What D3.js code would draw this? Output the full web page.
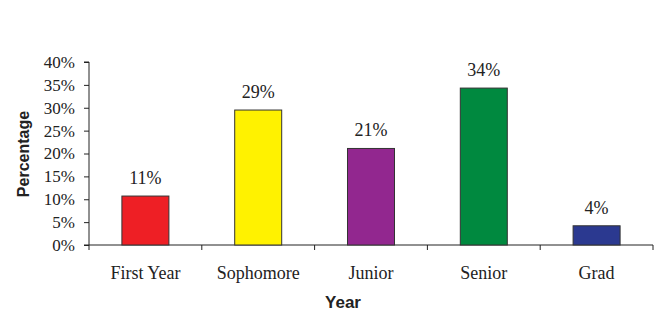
<!DOCTYPE html>
<html>
<head>
<meta charset="utf-8">
<script src="https://cdn.jsdelivr.net/npm/d3@7"></script>
<style>
  body { margin: 0; background: #fff; }
  svg { display: block; }
</style>
</head>
<body>
<svg id="chart" width="665" height="312"></svg>
<script>
// chart data
var categories = ["First Year", "Sophomore", "Junior", "Senior", "Grad"];
var values = [10.7, 29.5, 21.1, 34.3, 4.2];
var valueLabels = ["11%", "29%", "21%", "34%", "4%"];
var barColours = ["#ee1f25", "#fff200", "#92278f", "#00893f", "#2b3990"];
var yTicks = [0, 5, 10, 15, 20, 25, 30, 35, 40];

var svg = d3.select("#chart");

// plot area
var plotLeft = 89, plotRight = 653, plotTop = 62, plotBottom = 245;

var x = d3.scaleBand().domain(categories).range([plotLeft, plotRight]).padding(0);
var y = d3.scaleLinear().domain([0, 40]).range([plotBottom, plotTop]);
var barWidth = 47;

// title, almost all of it above the top edge of the picture
svg.append("text")
    .attr("x", 343)
    .attr("y", 0)
    .attr("text-anchor", "middle")
    .attr("font-family", "Liberation Serif, Times New Roman, serif")
    .attr("font-size", "16px")
    .attr("fill", "#aaa")
    .text("Year of Current Students");

// y axis
var yAxis = svg.append("g")
    .attr("transform", "translate(" + plotLeft + ",0)")
    .call(d3.axisLeft(y).tickValues(yTicks).tickSize(5).tickPadding(9)
        .tickFormat(function(d) { return d + "%"; }));
yAxis.select(".domain").attr("stroke", "#222").attr("d", "M-5," + plotTop + "H0V" + plotBottom + "H-5");
yAxis.selectAll(".tick line").attr("stroke", "#222");
yAxis.selectAll(".tick text")
    .attr("font-family", "Liberation Serif, Times New Roman, serif")
    .attr("font-size", "17px")
    .attr("fill", "#222");

// x axis with ticks between the categories
var xAxis = svg.append("g").attr("transform", "translate(0," + plotBottom + ")");
xAxis.append("line")
    .attr("x1", plotLeft).attr("x2", plotRight)
    .attr("y1", 0).attr("y2", 0)
    .attr("stroke", "#222");
var bounds = categories.map(function(c) { return x(c); }).concat([plotRight]);
xAxis.selectAll(".sep").data(bounds).enter().append("line")
    .attr("class", "sep")
    .attr("x1", function(d) { return d; }).attr("x2", function(d) { return d; })
    .attr("y1", 0).attr("y2", 5)
    .attr("stroke", "#222");
xAxis.selectAll(".cat").data(categories).enter().append("text")
    .attr("class", "cat")
    .attr("x", function(d) { return x(d) + x.bandwidth() / 2; })
    .attr("y", 34)
    .attr("text-anchor", "middle")
    .attr("font-family", "Liberation Serif, Times New Roman, serif")
    .attr("font-size", "18px")
    .attr("fill", "#222")
    .text(function(d) { return d; });

// bars
svg.selectAll(".bar").data(values).enter().append("rect")
    .attr("class", "bar")
    .attr("x", function(d, i) { return x(categories[i]) + x.bandwidth() / 2 - barWidth / 2; })
    .attr("y", function(d) { return y(d); })
    .attr("width", barWidth)
    .attr("height", function(d) { return y(0) - y(d); })
    .attr("fill", function(d, i) { return barColours[i]; })
    .attr("stroke", "#333")
    .attr("stroke-width", 1);

// value labels
svg.selectAll(".val").data(values).enter().append("text")
    .attr("class", "val")
    .attr("x", function(d, i) { return x(categories[i]) + x.bandwidth() / 2; })
    .attr("y", function(d) { return y(d) - 12; })
    .attr("text-anchor", "middle")
    .attr("font-family", "Liberation Serif, Times New Roman, serif")
    .attr("font-size", "18px")
    .attr("fill", "#222")
    .text(function(d, i) { return valueLabels[i]; });

// axis titles
svg.append("text")
    .attr("transform", "translate(29,154) rotate(-90)")
    .attr("text-anchor", "middle")
    .attr("font-family", "Liberation Sans, Arial, sans-serif")
    .attr("font-weight", "bold")
    .attr("font-size", "16px")
    .attr("fill", "#222")
    .text("Percentage");

svg.append("text")
    .attr("x", 343)
    .attr("y", 308)
    .attr("text-anchor", "middle")
    .attr("font-family", "Liberation Sans, Arial, sans-serif")
    .attr("font-weight", "bold")
    .attr("font-size", "17px")
    .attr("fill", "#222")
    .text("Year");
</script>
</body>
</html>
